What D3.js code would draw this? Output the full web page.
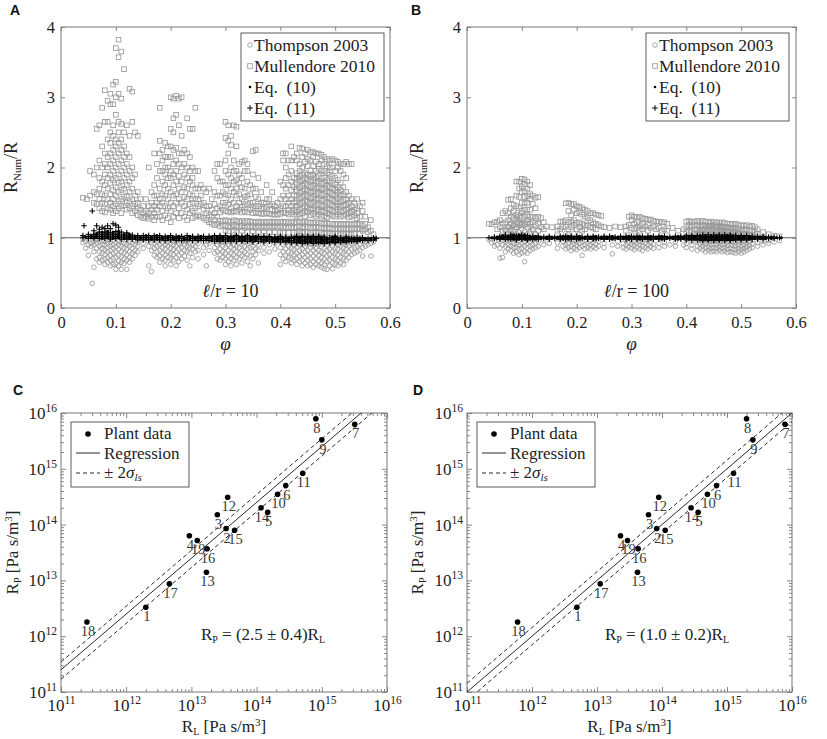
<html>
<head>
<meta charset="utf-8">
<title>Resistance ratios and plant data</title>
<script src="https://d3js.org/d3.v7.min.js"></script>
<style>
  body { margin: 0; background: #fff; }
  text { font-family: "Liberation Serif", "DejaVu Serif", serif; fill: #222; }
  .letter { font-family: "Liberation Sans", Arial, sans-serif; font-weight: bold; font-size: 14px; fill: #111; }
  .tick line { stroke: #888; }
</style>
</head>
<body>
<svg width="827" height="739"></svg>
<script>

// ---- tick labels
const phiTicks = [0, 0.1, 0.2, 0.3, 0.4, 0.5, 0.6];
const phiTickLabels = ['0', '0.1', '0.2', '0.3', '0.4', '0.5', '0.6'];
const ratioTicks = [0, 1, 2, 3, 4];
const ratioTickLabels = ['0', '1', '2', '3', '4'];
const logTicks = [1e11, 1e12, 1e13, 1e14, 1e15, 1e16];
const logTickExps = ['11', '12', '13', '14', '15', '16'];

const legendNames = ['Thompson 2003', 'Mullendore 2010', 'Eq.\u2002(10)', 'Eq.\u2002(11)'];
const legendKinds = ['circle', 'square', 'dot', 'plus'];

// ---- panel A (l/r = 10): columns of [phi, ratio, ratio, ...]
const mullA = [
 [0.040, 1.57], [0.047, 1.55], [0.053, 1.95, 1.6], [0.060, 1.9, 1.65, 1.5],
 [0.065, 2.55, 2.0, 1.62, 1.48], [0.070, 2.6, 2.1, 1.85, 1.7, 1.55, 1.42],
 [0.075, 2.85, 2.3, 2.0, 1.8, 1.62, 1.5, 1.38],
 [0.080, 3.1, 2.65, 2.2, 2.05, 1.9, 1.75, 1.6, 1.48, 1.36],
 [0.085, 2.95, 2.65, 2.4, 2.15, 2.0, 1.85, 1.7, 1.55, 1.42],
 [0.090, 3.05, 2.9, 2.5, 2.35, 2.2, 2.05, 1.9, 1.78, 1.62, 1.5, 1.4],
 [0.095, 3.18, 2.9, 2.6, 2.45, 2.25, 2.1, 1.95, 1.82, 1.68, 1.55, 1.45, 1.35],
 [0.100, 3.7, 3.22, 3.0, 2.75, 2.4, 2.3, 2.15, 2.0, 1.85, 1.72, 1.6, 1.48, 1.38],
 [0.105, 3.82, 3.57, 3.05, 2.65, 2.5, 2.35, 2.2, 2.05, 1.9, 1.78, 1.65, 1.52, 1.42],
 [0.110, 3.65, 2.98, 2.62, 2.4, 2.25, 2.1, 1.95, 1.8, 1.68, 1.55, 1.45, 1.35],
 [0.115, 3.4, 2.5, 2.3, 2.15, 2.0, 1.85, 1.7, 1.58, 1.46],
 [0.120, 2.6, 2.2, 2.05, 1.9, 1.75, 1.6, 1.5, 1.4],
 [0.125, 3.12, 2.45, 2.15, 1.95, 1.8, 1.65, 1.52, 1.42],
 [0.130, 3.08, 2.65, 2.0, 1.85, 1.7, 1.55, 1.45, 1.35],
 [0.135, 2.5, 1.9, 1.6, 1.48, 1.38], [0.140, 2.45, 1.65, 1.5, 1.42, 1.32],
 [0.145, 1.55, 1.4, 1.3], [0.150, 1.45, 1.35, 1.28], [0.155, 1.55, 1.38, 1.3],
 [0.160, 2.0, 1.45, 1.35, 1.27], [0.165, 1.65, 1.5, 1.4, 1.3],
 [0.170, 2.2, 1.75, 1.6, 1.45, 1.35, 1.25], [0.175, 2.05, 1.85, 1.6, 1.5, 1.4, 1.3],
 [0.180, 2.85, 2.38, 2.2, 1.95, 1.7, 1.55, 1.45, 1.3],
 [0.185, 2.25, 2.1, 1.95, 1.8, 1.62, 1.5, 1.38, 1.25],
 [0.190, 2.35, 2.15, 2.0, 1.9, 1.75, 1.6, 1.45, 1.32],
 [0.195, 2.3, 2.15, 2.0, 1.85, 1.7, 1.55, 1.42, 1.28],
 [0.200, 3.0, 2.55, 2.3, 2.15, 1.95, 1.85, 1.65, 1.5, 1.38, 1.22],
 [0.205, 2.98, 2.7, 2.5, 2.25, 2.05, 1.9, 1.75, 1.6, 1.45, 1.3],
 [0.210, 3.02, 2.75, 2.28, 2.1, 1.95, 1.8, 1.62, 1.5, 1.35],
 [0.215, 2.98, 2.6, 2.2, 2.05, 1.88, 1.7, 1.55, 1.42, 1.28],
 [0.220, 3.0, 2.45, 2.2, 2.0, 1.8, 1.65, 1.5, 1.35],
 [0.225, 2.25, 2.05, 1.9, 1.72, 1.58, 1.45, 1.3],
 [0.230, 2.7, 2.2, 2.0, 1.85, 1.7, 1.55, 1.4, 1.25],
 [0.235, 2.55, 2.15, 1.95, 1.8, 1.62, 1.48, 1.35],
 [0.240, 2.55, 2.0, 1.85, 1.75, 1.6, 1.5, 1.38, 1.28],
 [0.245, 2.85, 1.95, 1.7, 1.55, 1.42, 1.3], [0.250, 1.95, 1.7, 1.55, 1.45, 1.32],
 [0.255, 1.75, 1.6, 1.48, 1.3], [0.260, 1.7, 1.5, 1.4, 1.28],
 [0.265, 1.65, 1.45, 1.35, 1.25], [0.270, 1.7, 1.45, 1.32, 1.22],
 [0.275, 1.55, 1.4, 1.3, 1.2], [0.280, 1.95, 1.65, 1.48, 1.35, 1.25, 1.18],
 [0.285, 2.05, 1.85, 1.6, 1.42, 1.3, 1.2], [0.290, 2.05, 1.8, 1.6, 1.45, 1.36, 1.24, 1.16],
 [0.295, 1.8, 1.65, 1.5, 1.4, 1.24, 1.17],
 [0.300, 2.65, 2.42, 2.1, 1.95, 1.75, 1.62, 1.5, 1.38, 1.25, 1.17, 1.1],
 [0.305, 2.6, 2.38, 2.2, 1.9, 1.75, 1.6, 1.47, 1.37, 1.24, 1.16, 1.09],
 [0.310, 2.45, 2.32, 2.0, 1.85, 1.7, 1.55, 1.42, 1.36, 1.23, 1.15],
 [0.315, 2.6, 2.1, 1.95, 1.8, 1.65, 1.5, 1.38, 1.25, 1.18, 1.1],
 [0.320, 2.58, 2.3, 1.95, 1.82, 1.7, 1.6, 1.45, 1.37, 1.24, 1.16, 1.08],
 [0.325, 2.05, 1.9, 1.78, 1.62, 1.5, 1.4, 1.23, 1.15],
 [0.330, 2.08, 1.85, 1.72, 1.55, 1.44, 1.36, 1.24, 1.17, 1.1],
 [0.335, 2.1, 1.95, 1.7, 1.58, 1.46, 1.37, 1.22, 1.14],
 [0.340, 2.05, 1.95, 1.8, 1.6, 1.48, 1.36, 1.24, 1.16, 1.08],
 [0.345, 1.75, 1.62, 1.5, 1.4, 1.23, 1.15],
 [0.350, 2.23, 1.9, 1.7, 1.5, 1.42, 1.35, 1.23, 1.16, 1.09],
 [0.355, 2.25, 1.7, 1.58, 1.45, 1.36, 1.22, 1.14],
 [0.360, 1.85, 1.55, 1.45, 1.35, 1.23, 1.16, 1.08],
 [0.365, 1.65, 1.5, 1.41, 1.34, 1.22, 1.14],
 [0.370, 1.5, 1.42, 1.34, 1.23, 1.16, 1.09],
 [0.375, 1.75, 1.55, 1.44, 1.35, 1.22, 1.14],
 [0.380, 1.55, 1.46, 1.34, 1.23, 1.16, 1.08],
 [0.385, 1.65, 1.48, 1.4, 1.33, 1.22, 1.14],
 [0.390, 1.45, 1.38, 1.33, 1.23, 1.16, 1.08],
 [0.395, 1.5, 1.4, 1.33, 1.22, 1.14],
 [0.400, 1.8, 1.55, 1.42, 1.34, 1.23, 1.16, 1.08],
 [0.405, 2.2, 2.1, 1.75, 1.6, 1.45, 1.36, 1.22, 1.14, 1.07],
 [0.410, 2.2, 2.0, 1.85, 1.7, 1.55, 1.45, 1.35, 1.23, 1.15],
 [0.415, 2.1, 1.9, 1.75, 1.6, 1.5, 1.4, 1.33, 1.22, 1.14, 1.07],
 [0.420, 2.3, 2.1, 1.95, 1.8, 1.68, 1.55, 1.45, 1.36, 1.23, 1.15],
 [0.425, 2.15, 1.85, 1.72, 1.6, 1.5, 1.4, 1.33, 1.22, 1.14, 1.07],
 [0.430, 2.2, 2.1, 1.92, 1.84, 1.76, 1.68, 1.6, 1.52, 1.44, 1.37, 1.31, 1.22, 1.15, 1.08],
 [0.435, 2.28, 2.05, 1.95, 1.88, 1.8, 1.72, 1.64, 1.56, 1.48, 1.4, 1.33, 1.23, 1.16, 1.09],
 [0.440, 2.27, 2.15, 2.0, 1.9, 1.82, 1.74, 1.66, 1.58, 1.5, 1.42, 1.35, 1.22, 1.14, 1.07],
 [0.445, 2.2, 2.08, 1.92, 1.85, 1.77, 1.69, 1.61, 1.53, 1.45, 1.38, 1.31, 1.23, 1.15, 1.08],
 [0.450, 2.25, 2.12, 2.02, 1.9, 1.83, 1.75, 1.67, 1.59, 1.51, 1.43, 1.36, 1.22, 1.15, 1.08],
 [0.455, 2.22, 2.1, 1.96, 1.88, 1.8, 1.72, 1.64, 1.56, 1.48, 1.4, 1.32, 1.22, 1.14, 1.07],
 [0.460, 2.22, 2.15, 2.02, 1.9, 1.82, 1.74, 1.66, 1.58, 1.5, 1.42, 1.34, 1.21, 1.14, 1.07],
 [0.465, 2.2, 2.08, 1.95, 1.86, 1.78, 1.7, 1.62, 1.54, 1.46, 1.38, 1.31, 1.22, 1.15, 1.08],
 [0.470, 2.2, 2.05, 1.98, 1.88, 1.8, 1.72, 1.64, 1.56, 1.48, 1.4, 1.33, 1.21, 1.14, 1.07],
 [0.475, 2.18, 2.1, 1.96, 1.85, 1.77, 1.69, 1.61, 1.53, 1.45, 1.37, 1.3, 1.21, 1.14, 1.07],
 [0.480, 2.15, 2.05, 1.95, 1.86, 1.78, 1.7, 1.62, 1.54, 1.46, 1.38, 1.31, 1.2, 1.13, 1.06],
 [0.485, 2.12, 2.02, 1.92, 1.82, 1.74, 1.66, 1.58, 1.5, 1.42, 1.35, 1.29, 1.21, 1.14, 1.07],
 [0.490, 2.1, 2.0, 1.9, 1.8, 1.72, 1.64, 1.56, 1.48, 1.4, 1.33, 1.2, 1.13, 1.06],
 [0.495, 2.12, 2.0, 1.88, 1.78, 1.7, 1.62, 1.54, 1.46, 1.38, 1.31, 1.2, 1.13, 1.06],
 [0.500, 2.1, 1.95, 1.85, 1.76, 1.68, 1.6, 1.52, 1.44, 1.37, 1.3, 1.19, 1.12, 1.06],
 [0.505, 2.08, 2.0, 1.82, 1.72, 1.64, 1.56, 1.48, 1.4, 1.33, 1.2, 1.13, 1.06],
 [0.510, 2.05, 1.95, 1.78, 1.68, 1.6, 1.52, 1.44, 1.37, 1.3, 1.19, 1.12, 1.05],
 [0.515, 2.05, 1.9, 1.72, 1.62, 1.54, 1.46, 1.38, 1.31, 1.2, 1.13, 1.06],
 [0.520, 2.08, 1.85, 1.65, 1.55, 1.47, 1.4, 1.33, 1.19, 1.12, 1.05],
 [0.525, 2.05, 1.6, 1.5, 1.42, 1.35, 1.29, 1.2, 1.13, 1.06],
 [0.530, 2.05, 1.55, 1.45, 1.37, 1.3, 1.19, 1.12, 1.05],
 [0.535, 1.5, 1.4, 1.32, 1.2, 1.13, 1.06], [0.540, 1.55, 1.42, 1.35, 1.28, 1.19, 1.12],
 [0.545, 1.45, 1.3, 1.2, 1.13, 1.06], [0.550, 1.5, 1.38, 1.18, 1.1],
 [0.555, 1.3, 1.2, 1.12], [0.560, 1.15, 1.08], [0.565, 1.25, 1.1], [0.570, 1.05]
];

const thompA = [
 [0.040, 0.98, 0.93], [0.045, 0.85, 0.95], [0.050, 0.75, 0.9, 0.97], [0.055, 0.92, 0.88],
 [0.057, 0.35], [0.060, 0.58, 0.8, 0.95, 0.9], [0.065, 0.7, 0.85, 0.93, 0.97],
 [0.070, 0.65, 0.72, 0.8, 0.88, 0.95], [0.075, 0.68, 0.78, 0.85, 0.9, 0.96],
 [0.080, 0.62, 0.7, 0.76, 0.83, 0.9, 0.95], [0.085, 0.65, 0.72, 0.8, 0.86, 0.92, 0.97],
 [0.090, 0.6, 0.68, 0.75, 0.82, 0.88, 0.94], [0.095, 0.62, 0.7, 0.78, 0.85, 0.9, 0.96],
 [0.100, 0.55, 0.63, 0.72, 0.8, 0.87, 0.93], [0.105, 0.6, 0.67, 0.75, 0.83, 0.9, 0.95],
 [0.110, 0.55, 0.65, 0.73, 0.8, 0.88, 0.94], [0.115, 0.63, 0.7, 0.78, 0.86, 0.92],
 [0.120, 0.55, 0.68, 0.76, 0.84, 0.9, 0.96], [0.125, 0.65, 0.72, 0.8, 0.88, 0.94],
 [0.130, 0.7, 0.78, 0.85, 0.92], [0.135, 0.75, 0.82, 0.9, 0.96], [0.140, 0.8, 0.88, 0.94],
 [0.150, 0.85, 0.92], [0.160, 0.6, 0.88, 0.95], [0.165, 0.52, 0.82, 0.93],
 [0.170, 0.75, 0.85, 0.92, 0.97], [0.175, 0.72, 0.8, 0.88, 0.95],
 [0.180, 0.65, 0.74, 0.82, 0.9, 0.96], [0.185, 0.7, 0.78, 0.86, 0.93],
 [0.190, 0.6, 0.68, 0.76, 0.84, 0.9, 0.96], [0.195, 0.72, 0.8, 0.88, 0.94],
 [0.200, 0.62, 0.7, 0.78, 0.85, 0.92], [0.205, 0.68, 0.76, 0.83, 0.9, 0.96],
 [0.210, 0.6, 0.72, 0.8, 0.88, 0.94], [0.215, 0.66, 0.75, 0.84, 0.92],
 [0.220, 0.7, 0.78, 0.86, 0.93], [0.225, 0.74, 0.82, 0.9, 0.96], [0.230, 0.68, 0.8, 0.88, 0.94],
 [0.235, 0.6, 0.78, 0.86, 0.92], [0.240, 0.72, 0.84, 0.9], [0.245, 0.8, 0.88, 0.95],
 [0.250, 0.7, 0.82, 0.92], [0.260, 0.76, 0.86, 0.94], [0.265, 0.6, 0.9], [0.270, 0.82, 0.92],
 [0.280, 0.78, 0.86, 0.94], [0.285, 0.7, 0.8, 0.9, 0.96], [0.290, 0.68, 0.76, 0.84, 0.92],
 [0.295, 0.72, 0.8, 0.88, 0.95], [0.300, 0.62, 0.7, 0.78, 0.86, 0.93],
 [0.305, 0.66, 0.74, 0.82, 0.9, 0.96], [0.310, 0.6, 0.7, 0.78, 0.86, 0.93],
 [0.315, 0.68, 0.76, 0.84, 0.9], [0.320, 0.62, 0.72, 0.8, 0.88, 0.95],
 [0.325, 0.7, 0.78, 0.86, 0.92], [0.330, 0.64, 0.74, 0.82, 0.9], [0.335, 0.72, 0.8, 0.88, 0.95],
 [0.340, 0.66, 0.76, 0.84, 0.92], [0.345, 0.6, 0.74, 0.86, 0.94], [0.350, 0.7, 0.8, 0.88],
 [0.355, 0.76, 0.84, 0.92], [0.360, 0.64, 0.82, 0.9], [0.370, 0.78, 0.86, 0.94],
 [0.380, 0.8, 0.9], [0.390, 0.84, 0.92], [0.400, 0.62, 0.76, 0.86, 0.94],
 [0.405, 0.7, 0.8, 0.9], [0.410, 0.66, 0.74, 0.84, 0.92], [0.415, 0.72, 0.8, 0.88, 0.95],
 [0.420, 0.64, 0.7, 0.78, 0.86, 0.93], [0.425, 0.68, 0.76, 0.84, 0.9],
 [0.430, 0.62, 0.7, 0.78, 0.86, 0.92], [0.435, 0.66, 0.74, 0.82, 0.9, 0.95],
 [0.440, 0.6, 0.68, 0.76, 0.84, 0.9], [0.445, 0.64, 0.72, 0.8, 0.88, 0.94],
 [0.450, 0.6, 0.68, 0.75, 0.82, 0.9], [0.455, 0.62, 0.7, 0.78, 0.86, 0.92],
 [0.460, 0.58, 0.66, 0.74, 0.82, 0.89, 0.95], [0.465, 0.62, 0.7, 0.78, 0.85, 0.92],
 [0.470, 0.6, 0.67, 0.75, 0.82, 0.9], [0.475, 0.58, 0.64, 0.72, 0.8, 0.87, 0.94],
 [0.480, 0.56, 0.62, 0.7, 0.78, 0.85, 0.92], [0.485, 0.55, 0.66, 0.74, 0.82, 0.9],
 [0.490, 0.6, 0.68, 0.76, 0.84, 0.92], [0.495, 0.56, 0.64, 0.72, 0.8, 0.88],
 [0.500, 0.62, 0.7, 0.78, 0.86, 0.93], [0.505, 0.6, 0.68, 0.76, 0.84, 0.9],
 [0.510, 0.64, 0.72, 0.8, 0.88, 0.94], [0.515, 0.62, 0.7, 0.78, 0.86, 0.92],
 [0.520, 0.68, 0.76, 0.84, 0.9], [0.525, 0.72, 0.8, 0.88, 0.95], [0.530, 0.76, 0.84, 0.92],
 [0.535, 0.78, 0.86, 0.94], [0.540, 0.8, 0.88, 0.95], [0.545, 0.82, 0.9],
 [0.550, 0.74, 0.86, 0.94], [0.555, 0.88, 0.95], [0.560, 0.9, 0.96], [0.565, 0.74, 0.92],
 [0.570, 0.94]
];

const eq10A = [
 [0.045, 1.01], [0.055, 1.0, 1.03], [0.065, 1.0, 1.03, 1.06], [0.075, 0.99, 1.02, 1.05, 1.08],
 [0.085, 1.0, 1.03, 1.06, 1.09], [0.095, 0.99, 1.02, 1.05, 1.08], [0.105, 1.0, 1.03, 1.06, 1.09],
 [0.115, 0.99, 1.02, 1.05], [0.125, 0.99, 1.02, 1.05], [0.135, 0.99, 1.02], [0.145, 0.98, 1.01],
 [0.155, 0.98, 1.01, 1.03], [0.165, 0.98, 1.01], [0.175, 0.98, 1.01, 1.03], [0.185, 0.98, 1.01],
 [0.195, 0.97, 1.0, 1.02], [0.205, 0.98, 1.01], [0.215, 0.97, 1.0, 1.02], [0.225, 0.97, 1.0],
 [0.235, 0.97, 1.0, 1.02], [0.245, 0.97, 1.0], [0.255, 0.97, 1.0, 1.02], [0.265, 0.97, 1.0],
 [0.275, 0.96, 0.99, 1.01], [0.285, 0.96, 0.99, 1.01], [0.295, 0.96, 0.99, 1.01],
 [0.305, 0.96, 0.99, 1.01], [0.315, 0.96, 0.99, 1.02], [0.325, 0.96, 0.99, 1.01],
 [0.335, 0.96, 0.99, 1.01], [0.345, 0.96, 0.99, 1.01], [0.355, 0.96, 0.99, 1.02],
 [0.365, 0.95, 0.98, 1.01], [0.375, 0.96, 0.99, 1.01], [0.385, 0.95, 0.98, 1.0],
 [0.395, 0.95, 0.98, 1.01], [0.405, 0.95, 0.98, 1.0], [0.415, 0.95, 0.98, 1.0],
 [0.425, 0.94, 0.96, 0.99, 1.01], [0.435, 0.94, 0.96, 0.99, 1.01], [0.445, 0.93, 0.96, 0.98, 1.01],
 [0.455, 0.94, 0.96, 0.99, 1.01], [0.465, 0.93, 0.96, 0.98, 1.0], [0.475, 0.93, 0.96, 0.98, 1.01],
 [0.485, 0.93, 0.96, 0.98, 1.0], [0.495, 0.94, 0.96, 0.99, 1.01], [0.505, 0.94, 0.97, 0.99],
 [0.515, 0.94, 0.97, 0.99], [0.525, 0.95, 0.97, 1.0], [0.535, 0.95, 0.98, 1.0],
 [0.545, 0.96, 0.98, 1.0], [0.555, 0.97, 0.99], [0.565, 0.97, 0.99], [0.572, 0.98]
];

const eq11A = [
 [0.040, 1.0, 1.03], [0.042, 1.17], [0.050, 0.99, 1.02, 1.05], [0.057, 1.38],
 [0.060, 0.99, 1.02, 1.05, 1.1], [0.065, 1.17], [0.070, 0.99, 1.02, 1.05, 1.08, 1.12],
 [0.075, 1.15], [0.080, 0.99, 1.02, 1.05, 1.08, 1.13], [0.085, 1.17],
 [0.090, 0.98, 1.01, 1.04, 1.07, 1.13], [0.095, 1.2], [0.100, 0.99, 1.02, 1.05, 1.09, 1.18],
 [0.105, 1.15], [0.110, 0.98, 1.01, 1.04, 1.08], [0.120, 0.98, 1.01, 1.04, 1.07],
 [0.130, 0.98, 1.01, 1.04], [0.140, 0.97, 1.0, 1.03], [0.150, 0.97, 1.0, 1.03],
 [0.160, 0.97, 1.0, 1.03], [0.170, 0.97, 1.0, 1.03], [0.180, 0.97, 1.0, 1.03],
 [0.190, 0.96, 0.99, 1.02], [0.200, 0.97, 1.0, 1.03], [0.210, 0.96, 0.99, 1.02],
 [0.220, 0.96, 0.99, 1.02], [0.230, 0.97, 1.0, 1.03], [0.240, 0.96, 0.99, 1.02],
 [0.250, 0.96, 0.99, 1.02], [0.260, 0.96, 0.99, 1.02], [0.270, 0.96, 0.99, 1.02],
 [0.280, 0.95, 0.98, 1.01, 1.03], [0.290, 0.95, 0.98, 1.01, 1.03], [0.300, 0.95, 0.98, 1.01, 1.03],
 [0.310, 0.95, 0.98, 1.0, 1.02], [0.320, 0.95, 0.98, 1.01, 1.03], [0.330, 0.95, 0.97, 1.0, 1.02],
 [0.340, 0.95, 0.98, 1.01, 1.03], [0.350, 0.94, 0.97, 1.0, 1.02], [0.360, 0.95, 0.98, 1.0, 1.02],
 [0.370, 0.94, 0.97, 1.0, 1.02], [0.380, 0.95, 0.97, 1.0, 1.02], [0.390, 0.94, 0.97, 0.99, 1.01],
 [0.400, 0.94, 0.97, 0.99, 1.02], [0.410, 0.94, 0.96, 0.99, 1.01], [0.420, 0.93, 0.96, 0.99, 1.01],
 [0.430, 0.93, 0.95, 0.98, 1.0, 1.02], [0.440, 0.92, 0.95, 0.97, 1.0, 1.02],
 [0.450, 0.93, 0.95, 0.98, 1.0, 1.02], [0.460, 0.92, 0.95, 0.97, 1.0, 1.02],
 [0.470, 0.93, 0.95, 0.98, 1.0, 1.02], [0.480, 0.92, 0.95, 0.97, 1.0, 1.01],
 [0.490, 0.93, 0.95, 0.98, 1.0], [0.500, 0.93, 0.95, 0.98, 1.0, 1.02],
 [0.510, 0.94, 0.96, 0.98, 1.0], [0.520, 0.94, 0.96, 0.99, 1.01], [0.530, 0.95, 0.97, 0.99],
 [0.540, 0.95, 0.97, 1.0], [0.550, 0.96, 0.98, 1.0], [0.560, 0.96, 0.99], [0.570, 0.97, 1.0],
 [0.575, 0.99]
];

// ---- panel B (l/r = 100)
const mullB = [
 [0.040, 1.2], [0.045, 1.19], [0.050, 1.22], [0.055, 1.23, 1.12], [0.060, 1.25, 1.15],
 [0.065, 1.35, 1.2, 1.1], [0.070, 1.38, 1.22, 1.12], [0.075, 1.54, 1.35, 1.25, 1.15],
 [0.080, 1.55, 1.42, 1.3, 1.2, 1.1], [0.085, 1.47, 1.38, 1.28, 1.18],
 [0.090, 1.8, 1.6, 1.45, 1.33, 1.26, 1.15], [0.095, 1.8, 1.7, 1.58, 1.42, 1.3, 1.2],
 [0.100, 1.84, 1.73, 1.65, 1.5, 1.38, 1.28, 1.18],
 [0.105, 1.83, 1.76, 1.66, 1.58, 1.49, 1.4, 1.3, 1.2],
 [0.110, 1.8, 1.7, 1.59, 1.5, 1.4, 1.32, 1.22], [0.115, 1.75, 1.62, 1.55, 1.4, 1.3, 1.2],
 [0.120, 1.6, 1.48, 1.3, 1.22, 1.12], [0.125, 1.57, 1.42, 1.28, 1.18],
 [0.130, 1.58, 1.3, 1.2, 1.1], [0.135, 1.28, 1.15], [0.140, 1.22, 1.12], [0.145, 1.16],
 [0.155, 1.15], [0.165, 1.16, 1.1], [0.170, 1.23, 1.12], [0.175, 1.23, 1.15],
 [0.180, 1.49, 1.25, 1.16], [0.185, 1.5, 1.38, 1.22, 1.12], [0.190, 1.48, 1.32, 1.23, 1.15],
 [0.195, 1.48, 1.4, 1.25, 1.18], [0.200, 1.45, 1.35, 1.21, 1.12], [0.205, 1.44, 1.36, 1.22, 1.15],
 [0.210, 1.42, 1.33, 1.2, 1.1], [0.215, 1.4, 1.3, 1.18, 1.12], [0.220, 1.38, 1.28, 1.17],
 [0.225, 1.35, 1.25, 1.15], [0.230, 1.35, 1.22, 1.14], [0.235, 1.33, 1.2, 1.12],
 [0.240, 1.32, 1.18], [0.245, 1.31, 1.16], [0.250, 1.15], [0.260, 1.14], [0.270, 1.16],
 [0.280, 1.15], [0.290, 1.16, 1.1], [0.295, 1.3, 1.18], [0.300, 1.32, 1.25, 1.14],
 [0.305, 1.3, 1.2, 1.12], [0.310, 1.29, 1.22, 1.14], [0.315, 1.3, 1.18, 1.1],
 [0.320, 1.28, 1.2, 1.12], [0.325, 1.27, 1.16], [0.330, 1.26, 1.18, 1.1], [0.335, 1.26, 1.14],
 [0.340, 1.24, 1.16], [0.345, 1.23, 1.12], [0.350, 1.23, 1.14], [0.355, 1.22, 1.1],
 [0.360, 1.22, 1.12], [0.365, 1.2, 1.1], [0.375, 1.14], [0.385, 1.1], [0.395, 1.12],
 [0.400, 1.23, 1.15, 1.08], [0.405, 1.24, 1.18, 1.1], [0.410, 1.22, 1.16, 1.08],
 [0.415, 1.23, 1.18, 1.12, 1.05], [0.420, 1.24, 1.18, 1.12, 1.06], [0.425, 1.22, 1.16, 1.1, 1.04],
 [0.430, 1.24, 1.18, 1.12, 1.06], [0.435, 1.23, 1.17, 1.11, 1.05], [0.440, 1.22, 1.16, 1.1, 1.04],
 [0.445, 1.23, 1.17, 1.11, 1.05], [0.450, 1.22, 1.16, 1.1, 1.04], [0.455, 1.22, 1.16, 1.1, 1.05],
 [0.460, 1.21, 1.15, 1.09, 1.04], [0.465, 1.22, 1.16, 1.1, 1.05], [0.470, 1.21, 1.15, 1.09, 1.04],
 [0.475, 1.2, 1.14, 1.08], [0.480, 1.2, 1.14, 1.08, 1.03], [0.485, 1.19, 1.13, 1.07],
 [0.490, 1.2, 1.14, 1.08, 1.03], [0.495, 1.18, 1.12, 1.06], [0.500, 1.18, 1.12, 1.06],
 [0.505, 1.17, 1.11, 1.05], [0.510, 1.18, 1.12, 1.06], [0.515, 1.16, 1.1, 1.04],
 [0.520, 1.17, 1.1, 1.04], [0.525, 1.15, 1.08], [0.530, 1.12, 1.05], [0.540, 1.08],
 [0.550, 1.05], [0.560, 1.03], [0.570, 1.02]
];

const thompB = [
 [0.040, 0.97], [0.045, 0.93], [0.050, 0.95, 0.88], [0.055, 0.9], [0.060, 0.71, 0.85, 0.95],
 [0.065, 0.72, 0.9, 0.96], [0.070, 0.8, 0.88, 0.95, 1.1], [0.075, 0.84, 0.9, 0.96, 1.05, 1.15],
 [0.080, 0.82, 0.88, 0.94, 1.06, 1.12, 1.2], [0.085, 0.78, 0.86, 0.92, 1.05, 1.1, 1.18],
 [0.090, 0.8, 0.86, 0.92, 1.06, 1.14, 1.22, 1.3], [0.095, 0.76, 0.84, 0.9, 0.96, 1.08, 1.16, 1.25],
 [0.100, 0.78, 0.85, 0.92, 1.05, 1.12, 1.2, 1.35], [0.105, 0.66, 0.8, 0.88, 0.94, 1.1, 1.18],
 [0.110, 0.78, 0.86, 0.92, 1.06, 1.14, 1.25], [0.115, 0.82, 0.88, 0.95, 1.08, 1.15],
 [0.120, 0.84, 0.9, 0.96, 1.1], [0.125, 0.86, 0.92, 1.06], [0.130, 0.88, 0.95],
 [0.140, 0.9, 0.96], [0.150, 0.92], [0.165, 0.85, 0.93], [0.175, 0.88, 0.95],
 [0.180, 0.84, 0.9, 0.96, 1.06], [0.185, 0.86, 0.92, 1.05], [0.190, 0.82, 0.88, 0.95],
 [0.195, 0.85, 0.91, 0.96, 1.06], [0.200, 0.83, 0.89, 0.94], [0.205, 0.86, 0.92, 1.05],
 [0.210, 0.75, 0.88, 0.95], [0.215, 0.84, 0.9, 0.96], [0.220, 0.86, 0.92],
 [0.225, 0.84, 0.9, 0.96], [0.230, 0.87, 0.93], [0.235, 0.85, 0.91], [0.240, 0.88, 0.95],
 [0.250, 0.86, 0.92], [0.265, 0.77, 0.9], [0.275, 0.88, 0.95], [0.285, 0.86, 0.92],
 [0.290, 0.84, 0.9, 0.96], [0.295, 0.87, 0.93], [0.300, 0.85, 0.91, 0.96, 1.05],
 [0.305, 0.83, 0.89, 0.94], [0.310, 0.86, 0.92, 1.04], [0.315, 0.84, 0.9, 0.95],
 [0.320, 0.82, 0.88, 0.94], [0.325, 0.86, 0.92], [0.330, 0.84, 0.9, 0.96], [0.335, 0.87, 0.93],
 [0.340, 0.85, 0.91], [0.350, 0.86, 0.92], [0.360, 0.88, 0.94], [0.370, 0.9],
 [0.380, 0.88, 0.94], [0.395, 0.9], [0.400, 0.86, 0.92], [0.410, 0.84, 0.9, 0.95],
 [0.420, 0.82, 0.88, 0.94, 1.06], [0.425, 0.85, 0.91, 0.96, 1.1],
 [0.430, 0.83, 0.88, 0.93, 1.05, 1.12], [0.435, 0.8, 0.86, 0.91, 0.96, 1.08, 1.15],
 [0.440, 0.82, 0.87, 0.92, 1.05, 1.12, 1.18], [0.445, 0.8, 0.85, 0.9, 0.95, 1.08, 1.15],
 [0.450, 0.81, 0.86, 0.91, 0.96, 1.06, 1.13, 1.19], [0.455, 0.8, 0.85, 0.9, 0.95, 1.1, 1.16],
 [0.460, 0.82, 0.87, 0.92, 1.05, 1.12, 1.18], [0.465, 0.8, 0.85, 0.9, 0.95, 1.08, 1.15],
 [0.470, 0.81, 0.86, 0.91, 0.96, 1.06, 1.12], [0.475, 0.79, 0.84, 0.89, 0.94, 1.1, 1.16],
 [0.480, 0.8, 0.85, 0.9, 0.95, 1.05, 1.12], [0.485, 0.79, 0.84, 0.89, 0.94, 1.08, 1.14],
 [0.490, 0.78, 0.83, 0.88, 0.93, 1.05, 1.1], [0.495, 0.8, 0.85, 0.9, 0.95, 1.08],
 [0.500, 0.78, 0.83, 0.88, 0.93, 1.05, 1.1], [0.505, 0.8, 0.85, 0.9, 0.95, 1.06],
 [0.510, 0.82, 0.87, 0.92, 1.04], [0.515, 0.84, 0.89, 0.94], [0.520, 0.86, 0.91, 0.96, 1.05],
 [0.530, 0.88, 0.93], [0.540, 0.9, 0.95], [0.550, 0.92, 0.96], [0.560, 0.94], [0.570, 0.96]
];

const eq10B = [
 [0.045, 1.0], [0.055, 0.99, 1.01], [0.065, 0.99, 1.01, 1.03], [0.075, 0.98, 1.0, 1.02],
 [0.085, 0.98, 1.0, 1.02, 1.04], [0.095, 0.98, 1.0, 1.02, 1.04], [0.105, 0.98, 1.0, 1.02, 1.04],
 [0.115, 0.98, 1.0, 1.02], [0.125, 0.98, 1.0, 1.02], [0.135, 0.99, 1.01], [0.145, 0.99, 1.01],
 [0.155, 0.99, 1.01], [0.165, 0.99, 1.01], [0.175, 0.98, 1.0, 1.02], [0.185, 0.98, 1.0, 1.02],
 [0.195, 0.99, 1.01], [0.205, 0.98, 1.0, 1.02], [0.215, 0.99, 1.01], [0.225, 0.99, 1.01],
 [0.235, 0.98, 1.0, 1.02], [0.245, 0.99, 1.01], [0.255, 0.99, 1.01], [0.265, 0.98, 1.0, 1.02],
 [0.275, 0.99, 1.01], [0.285, 0.99, 1.01], [0.295, 0.98, 1.0, 1.02], [0.305, 0.99, 1.01],
 [0.315, 0.98, 1.0, 1.02], [0.325, 0.99, 1.01], [0.335, 0.98, 1.0, 1.02], [0.345, 0.99, 1.01],
 [0.355, 0.98, 1.0, 1.02], [0.365, 0.99, 1.01], [0.375, 0.99, 1.01], [0.385, 0.98, 1.0, 1.02],
 [0.395, 0.99, 1.01], [0.405, 0.98, 1.0, 1.02], [0.415, 0.98, 1.0, 1.02],
 [0.425, 0.97, 0.99, 1.01, 1.03], [0.435, 0.97, 0.99, 1.01, 1.03], [0.445, 0.97, 0.99, 1.01, 1.03],
 [0.455, 0.97, 0.99, 1.01, 1.03], [0.465, 0.97, 0.99, 1.01, 1.03], [0.475, 0.97, 0.99, 1.01, 1.03],
 [0.485, 0.97, 0.99, 1.01, 1.03], [0.495, 0.98, 1.0, 1.02], [0.505, 0.98, 1.0, 1.02],
 [0.515, 0.98, 1.0, 1.02], [0.525, 0.99, 1.01], [0.535, 0.99, 1.01], [0.545, 0.99, 1.01],
 [0.555, 0.99, 1.01], [0.565, 1.0], [0.573, 1.0]
];

const eq11B = [
 [0.040, 1.0], [0.050, 0.99, 1.01], [0.060, 0.98, 1.0, 1.02], [0.070, 0.98, 1.0, 1.02, 1.04],
 [0.080, 0.98, 1.0, 1.02, 1.04], [0.090, 0.97, 0.99, 1.01, 1.03], [0.100, 0.98, 1.0, 1.02, 1.04],
 [0.110, 0.97, 0.99, 1.01, 1.03], [0.120, 0.98, 1.0, 1.02], [0.130, 0.98, 1.0, 1.02],
 [0.140, 0.99, 1.01], [0.150, 0.98, 1.0, 1.02], [0.160, 0.99, 1.01], [0.170, 0.98, 1.0, 1.02],
 [0.180, 0.98, 1.0, 1.02], [0.190, 0.98, 1.0, 1.02], [0.200, 0.98, 1.0, 1.02], [0.210, 0.99, 1.01],
 [0.220, 0.98, 1.0, 1.02], [0.230, 0.98, 1.0, 1.02], [0.240, 0.99, 1.01], [0.250, 0.98, 1.0, 1.02],
 [0.260, 0.98, 1.0, 1.02], [0.270, 0.99, 1.01], [0.280, 0.98, 1.0, 1.02], [0.290, 0.98, 1.0, 1.02],
 [0.300, 0.98, 1.0, 1.02], [0.310, 0.98, 1.0, 1.02], [0.320, 0.98, 1.0, 1.02], [0.330, 0.98, 1.0, 1.02],
 [0.340, 0.98, 1.0, 1.02], [0.350, 0.98, 1.0, 1.02], [0.360, 0.98, 1.0, 1.02], [0.370, 0.99, 1.01],
 [0.380, 0.98, 1.0, 1.02], [0.390, 0.98, 1.0, 1.02], [0.400, 0.97, 0.99, 1.01, 1.03],
 [0.410, 0.97, 0.99, 1.01, 1.03], [0.420, 0.97, 0.99, 1.01, 1.03], [0.430, 0.96, 0.98, 1.0, 1.02, 1.04],
 [0.440, 0.96, 0.98, 1.0, 1.02, 1.04], [0.450, 0.96, 0.98, 1.0, 1.02, 1.04],
 [0.460, 0.96, 0.98, 1.0, 1.02, 1.04], [0.470, 0.96, 0.98, 1.0, 1.02, 1.04],
 [0.480, 0.96, 0.98, 1.0, 1.02, 1.04], [0.490, 0.97, 0.99, 1.01, 1.03], [0.500, 0.97, 0.99, 1.01, 1.03],
 [0.510, 0.97, 0.99, 1.01, 1.03], [0.520, 0.98, 1.0, 1.02], [0.530, 0.98, 1.0, 1.02],
 [0.540, 0.98, 1.0, 1.02], [0.550, 0.99, 1.01], [0.560, 0.99, 1.01], [0.570, 1.0]
];

// ---- panels C and D: plant data
const plantIds = ['1', '2', '3', '4', '5', '6', '7', '8', '9', '10', '11', '12', '13', '14', '15', '16', '17', '18', '19'];
const plantRP = [3.3e12, 8.5e13, 1.5e14, 6.3e13, 1.66e14, 5.0e14, 6.3e15, 7.9e15, 3.3e15, 3.5e14,
                 8.3e14, 3.1e14, 1.4e13, 2.0e14, 7.9e13, 3.7e13, 8.7e12, 1.8e12, 5.2e13];
const plantRL_C = [2.0e12, 3.4e13, 2.5e13, 9.3e12, 1.48e14, 2.8e14, 3.2e15, 8.1e14, 1.0e15, 2.1e14,
                   5.1e14, 3.6e13, 1.7e13, 1.17e14, 4.6e13, 1.74e13, 4.6e12, 2.5e11, 1.23e13];
const plantRL_D = [4.9e12, 8.3e13, 6.2e13, 2.3e13, 3.6e14, 6.9e14, 7.8e15, 2.0e15, 2.5e15, 5.0e14,
                   1.26e15, 8.9e13, 4.2e13, 2.8e14, 1.12e14, 4.3e13, 1.12e13, 6.0e11, 2.95e13];
// regression factor and the +-2 sigma band factors
const regC = [2.5, 1.7, 3.45];
const regD = [1.0, 0.7, 1.43];

const svg = d3.select('svg');
const grey = '#999';
const serif = '"Liberation Serif", "DejaVu Serif", serif';
const expand = cols => cols.flatMap(c => c.slice(1).map(v => ({ phi: c[0], r: v })));
const styleTicks = (a, size) => a.selectAll('.tick text')
  .attr('font-family', serif).attr('font-size', size).attr('fill', '#333');

function marker(g, kind, cx, cy) {
  if (kind === 'circle') {
    g.append('circle').attr('cx', cx).attr('cy', cy).attr('r', 2.3)
      .attr('fill', 'none').attr('stroke', grey).attr('stroke-width', 0.85);
  } else if (kind === 'square') {
    g.append('rect').attr('x', cx - 2.3).attr('y', cy - 2.3).attr('width', 4.6).attr('height', 4.6)
      .attr('fill', 'none').attr('stroke', grey).attr('stroke-width', 0.85);
  } else if (kind === 'dot') {
    g.append('circle').attr('cx', cx).attr('cy', cy).attr('r', 1.3).attr('fill', '#000');
  } else {
    g.append('path').attr('d', `M${cx - 2.8},${cy}h5.6M${cx},${cy - 2.8}v5.6`)
      .attr('stroke', '#000').attr('stroke-width', 1);
  }
}

function phiPanel(o) {
  const x = d3.scaleLinear().domain([0, 0.6]).range([o.x0, o.x1]);
  const y = d3.scaleLinear().domain([0, 4]).range([o.y1, o.y0]);
  const g = svg.append('g');

  g.append('line').attr('x1', x(0)).attr('x2', x(0.6)).attr('y1', y(1)).attr('y2', y(1))
    .attr('stroke', '#333').attr('stroke-width', 0.8);

  g.append('g').selectAll('rect').data(expand(o.squares)).join('rect')
    .attr('x', d => x(d.phi) - 2.3).attr('y', d => y(d.r) - 2.3)
    .attr('width', 4.6).attr('height', 4.6)
    .attr('fill', 'none').attr('stroke', grey).attr('stroke-width', 0.85);

  g.append('g').selectAll('circle').data(expand(o.circles)).join('circle')
    .attr('cx', d => x(d.phi)).attr('cy', d => y(d.r)).attr('r', 2.3)
    .attr('fill', 'none').attr('stroke', grey).attr('stroke-width', 0.85);

  g.append('g').selectAll('circle').data(expand(o.dots)).join('circle')
    .attr('cx', d => x(d.phi)).attr('cy', d => y(d.r)).attr('r', 1.6).attr('fill', '#000');

  g.append('g').selectAll('path').data(expand(o.pluses)).join('path')
    .attr('d', d => `M${x(d.phi) - 2.8},${y(d.r)}h5.6M${x(d.phi)},${y(d.r) - 2.8}v5.6`)
    .attr('stroke', '#000').attr('stroke-width', 1.1);

  // axes, ticks inward on all sides
  const xb = g.append('g').attr('transform', `translate(0,${o.y1})`)
    .call(d3.axisBottom(x).tickValues(phiTicks).tickSize(-4).tickPadding(8)
      .tickFormat((d, i) => phiTickLabels[i]))
    .call(a => a.select('.domain').remove());
  g.append('g').attr('transform', `translate(0,${o.y0})`)
    .call(d3.axisTop(x).tickValues(phiTicks).tickSize(-4).tickFormat(''))
    .call(a => a.select('.domain').remove());
  const yl0 = g.append('g').attr('transform', `translate(${o.x0},0)`)
    .call(d3.axisLeft(y).tickValues(ratioTicks).tickSize(-4).tickPadding(6)
      .tickFormat((d, i) => ratioTickLabels[i]))
    .call(a => a.select('.domain').remove());
  g.append('g').attr('transform', `translate(${o.x1},0)`)
    .call(d3.axisRight(y).tickValues(ratioTicks).tickSize(-4).tickFormat(''))
    .call(a => a.select('.domain').remove());
  styleTicks(xb, 16.5);
  styleTicks(yl0, 16.5);

  g.append('rect').attr('x', o.x0).attr('y', o.y0).attr('width', o.x1 - o.x0).attr('height', o.y1 - o.y0)
    .attr('fill', 'none').attr('stroke', '#777').attr('stroke-width', 1);

  // legend
  const lg = g.append('g');
  lg.append('rect').attr('x', o.lx).attr('y', 33).attr('width', 143).attr('height', 88)
    .attr('fill', '#fff').attr('stroke', '#333').attr('stroke-width', 0.8);
  legendNames.forEach((name, i) => {
    const cy = 45 + i * 21;
    marker(lg, legendKinds[i], o.lx + 9, cy);
    lg.append('text').attr('x', o.lx + 13).attr('y', cy + 6).attr('font-size', 17.5).text(name);
  });

  // l/r label
  const t = g.append('text').attr('x', (o.x0 + o.x1) / 2 + 5).attr('y', 297)
    .attr('text-anchor', 'middle').attr('font-size', 18);
  t.append('tspan').attr('font-weight', 'bold').attr('font-style', 'italic').text('\u2113');
  t.append('tspan').text('/r = ' + o.ratio);

  // axis titles
  g.append('text').attr('x', (o.x0 + o.x1) / 2).attr('y', 350).attr('text-anchor', 'middle')
    .attr('font-size', 19).attr('font-style', 'italic').text('\u03c6');
  const yl = g.append('text').attr('transform', `translate(${o.ylx},${(o.y0 + o.y1) / 2}) rotate(-90)`)
    .attr('text-anchor', 'middle').attr('font-size', 18);
  yl.append('tspan').text('R');
  yl.append('tspan').attr('font-size', 11).attr('dy', 4).text('Num');
  yl.append('tspan').attr('dy', -4).text('/R');

  g.append('text').attr('class', 'letter').attr('x', o.letterX).attr('y', 15).text(o.letter);
}

function logPanel(o) {
  const x = d3.scaleLog().domain([1e11, 1e16]).range([o.x0, o.x1]);
  const y = d3.scaleLog().domain([1e11, 1e16]).range([o.y1, o.y0]);
  const g = svg.append('g');
  const clipId = 'clip' + o.letter;
  svg.append('clipPath').attr('id', clipId).append('rect')
    .attr('x', o.x0).attr('y', o.y0).attr('width', o.x1 - o.x0).attr('height', o.y1 - o.y0);

  // minor + major ticks on all four sides
  const minor = x.ticks().filter(v => !logTicks.includes(v));
  const side = (axis, tr, vals, size) => g.append('g').attr('transform', tr)
    .call(axis.tickValues(vals).tickSize(size).tickFormat(''))
    .call(a => a.select('.domain').remove());
  side(d3.axisBottom(x), `translate(0,${o.y1})`, minor, -3);
  side(d3.axisTop(x), `translate(0,${o.y0})`, minor, -3);
  side(d3.axisLeft(y), `translate(${o.x0},0)`, minor, -3);
  side(d3.axisRight(y), `translate(${o.x1},0)`, minor, -3);
  side(d3.axisTop(x), `translate(0,${o.y0})`, logTicks, -5);
  side(d3.axisRight(y), `translate(${o.x1},0)`, logTicks, -5);
  const xa = g.append('g').attr('transform', `translate(0,${o.y1})`)
    .call(d3.axisBottom(x).tickValues(logTicks).tickSize(-5).tickPadding(7).tickFormat(() => '10'))
    .call(a => a.select('.domain').remove());
  const ya = g.append('g').attr('transform', `translate(${o.x0},0)`)
    .call(d3.axisLeft(y).tickValues(logTicks).tickSize(-5).tickPadding(4).tickFormat(() => '10'))
    .call(a => a.select('.domain').remove());
  [xa, ya].forEach(a => {
    styleTicks(a, 17);
    a.selectAll('.tick text').each(function (d, i) {
      d3.select(this).append('tspan').attr('font-size', 11.5).attr('dy', -7).text(logTickExps[i]);
    });
  });

  g.append('rect').attr('x', o.x0).attr('y', o.y0).attr('width', o.x1 - o.x0).attr('height', o.y1 - o.y0)
    .attr('fill', 'none').attr('stroke', '#777').attr('stroke-width', 1);

  // regression and band
  const ends = x.domain();
  const line = k => d3.line()(ends.map(v => [x(v), y(k * v)]));
  const lines = g.append('g').attr('clip-path', `url(#${clipId})`);
  lines.append('path').attr('d', line(o.reg[0])).attr('stroke', '#111').attr('stroke-width', 0.9).attr('fill', 'none');
  [o.reg[1], o.reg[2]].forEach(k => lines.append('path').attr('d', line(k))
    .attr('stroke', '#111').attr('stroke-width', 0.9).attr('stroke-dasharray', '4,3').attr('fill', 'none'));

  // plant points and numbers
  const pts = plantIds.map((id, i) => ({ id, rl: o.rl[i], rp: plantRP[i] }));
  g.append('g').selectAll('text').data(pts).join('text')
    .attr('x', d => x(d.rl) + 1).attr('y', d => y(d.rp) + 14)
    .attr('text-anchor', 'middle').attr('font-size', 14.5).style('fill', '#3a3a3a').text(d => d.id);
  g.append('g').selectAll('circle').data(pts).join('circle')
    .attr('cx', d => x(d.rl)).attr('cy', d => y(d.rp)).attr('r', 2.8).attr('fill', '#000');

  // legend
  const lg = g.append('g');
  const lx = o.x0 + o.lxo;
  lg.append('rect').attr('x', lx).attr('y', 422).attr('width', 118).attr('height', 65)
    .attr('fill', '#fff').attr('stroke', '#333').attr('stroke-width', 0.8);
  lg.append('circle').attr('cx', lx + 17).attr('cy', 434).attr('r', 2.8).attr('fill', '#000');
  lg.append('line').attr('x1', lx + 5).attr('x2', lx + 29).attr('y1', 453).attr('y2', 453)
    .attr('stroke', '#111').attr('stroke-width', 0.9);
  lg.append('line').attr('x1', lx + 5).attr('x2', lx + 29).attr('y1', 473).attr('y2', 473)
    .attr('stroke', '#111').attr('stroke-width', 0.9).attr('stroke-dasharray', '4,3');
  lg.append('text').attr('x', lx + 33).attr('y', 439).attr('font-size', 17).text('Plant data');
  lg.append('text').attr('x', lx + 33).attr('y', 459).attr('font-size', 17).text('Regression');
  const sg = lg.append('text').attr('x', lx + 33).attr('y', 478).attr('font-size', 17);
  sg.append('tspan').text('\u00b1 2');
  sg.append('tspan').attr('font-style', 'italic').text('\u03c3');
  sg.append('tspan').attr('font-style', 'italic').attr('font-size', 11).attr('dy', 3).text('ls');

  // equation
  const eq = g.append('text').attr('x', o.eqx).attr('y', 640).attr('text-anchor', 'middle').attr('font-size', 17);
  eq.append('tspan').text('R');
  eq.append('tspan').attr('font-size', 10).attr('dy', 3).text('P');
  eq.append('tspan').attr('dy', -3).text(' = (' + o.eqText + ')R');
  eq.append('tspan').attr('font-size', 10).attr('dy', 3).text('L');

  // axis titles
  const xl = g.append('text').attr('x', (o.x0 + o.x1) / 2).attr('y', 732).attr('text-anchor', 'middle').attr('font-size', 17);
  xl.append('tspan').text('R');
  xl.append('tspan').attr('font-size', 10).attr('dy', 3).text('L');
  xl.append('tspan').attr('dy', -3).text(' [Pa s/m');
  xl.append('tspan').attr('font-size', 11).attr('dy', -6).text('3');
  xl.append('tspan').attr('dy', 6).text(']');
  const yl = g.append('text').attr('transform', `translate(${o.ylx},${(o.y0 + o.y1) / 2}) rotate(-90)`)
    .attr('text-anchor', 'middle').attr('font-size', 17);
  yl.append('tspan').text('R');
  yl.append('tspan').attr('font-size', 10).attr('dy', 3).text('P');
  yl.append('tspan').attr('dy', -3).text(' [Pa s/m');
  yl.append('tspan').attr('font-size', 11).attr('dy', -6).text('3');
  yl.append('tspan').attr('dy', 6).text(']');

  g.append('text').attr('class', 'letter').attr('x', o.letterX).attr('y', 395).text(o.letter);
}

phiPanel({ x0: 61, x1: 390, y0: 27, y1: 308, squares: mullA, circles: thompA, dots: eq10A, pluses: eq11A,
  lx: 241, ratio: '10', ylx: 17, letter: 'A', letterX: 10 });
phiPanel({ x0: 467, x1: 796, y0: 27, y1: 308, squares: mullB, circles: thompB, dots: eq10B, pluses: eq11B,
  lx: 646, ratio: '100', ylx: 423, letter: 'B', letterX: 411 });
logPanel({ x0: 61, x1: 387, y0: 413, y1: 692, rl: plantRL_C, reg: regC, eqText: '2.5 \u00b1 0.4',
  eqx: 263, lxo: 10, ylx: 18, letter: 'C', letterX: 13 });
logPanel({ x0: 467, x1: 792, y0: 413, y1: 692, rl: plantRL_D, reg: regD, eqText: '1.0 \u00b1 0.2',
  eqx: 667, lxo: 10, ylx: 423, letter: 'D', letterX: 413 });

</script>
</body>
</html>
